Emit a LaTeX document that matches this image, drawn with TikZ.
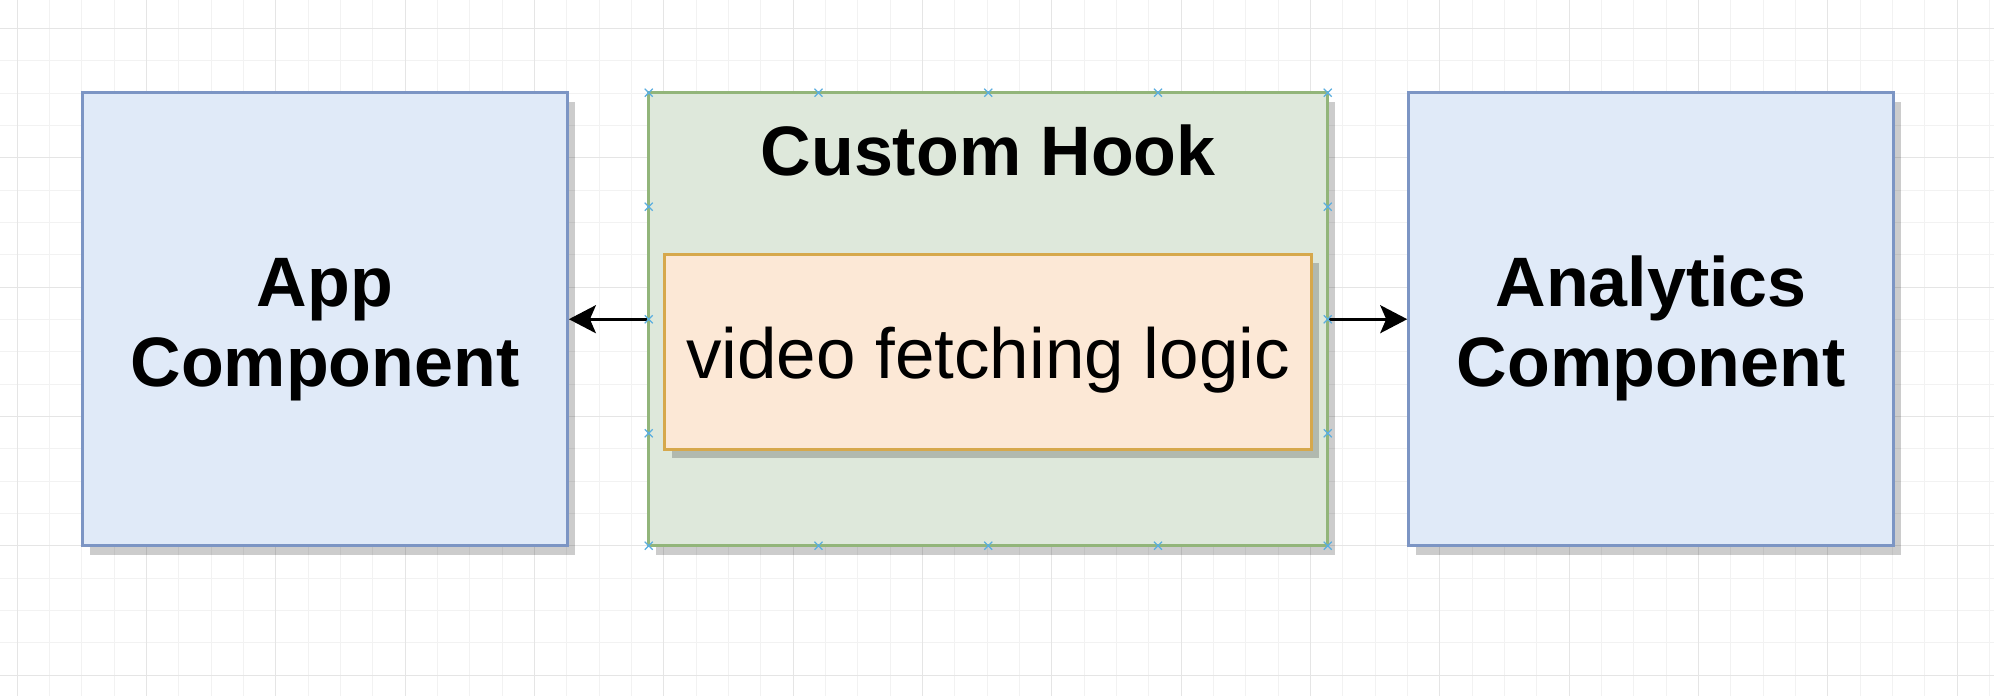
\documentclass[tikz,border=0pt]{standalone}
\usepackage{fontspec}
\setmainfont{Liberation Sans}
\usepackage{xcolor}
\usetikzlibrary{arrows.meta, shadows}
\definecolor{compfill}{HTML}{E0EAF8}
\definecolor{compline}{HTML}{7C95C4}
\definecolor{hookfill}{HTML}{DEE8DB}
\definecolor{hookline}{HTML}{92B57A}
\definecolor{logicfill}{HTML}{FCE8D6}
\definecolor{logicline}{HTML}{D6A84C}
\definecolor{cptblue}{HTML}{5AAEE0}

\begin{document}
\begin{tikzpicture}[x=1pt, y=-1pt,
    gridminor/.style={line width=1pt, black!5},
    gridmajor/.style={line width=1pt, black!10},
    boxshadow/.style={general shadow={shadow xshift=7pt, shadow yshift=-9pt, fill=black, opacity=.2}},
    comp/.style={draw=compline, fill=compfill, line width=2.8pt, boxshadow, minimum width=485pt, minimum height=453pt, inner sep=0pt, text height=149pt, align=center, font=\fontsize{70}{80}\selectfont\bfseries},
    hook/.style={draw=hookline, fill=hookfill, line width=2.8pt, boxshadow, minimum width=679pt, minimum height=453pt, inner sep=0pt},
    logic/.style={draw=logicline, fill=logicfill, line width=2.8pt, boxshadow, minimum width=647pt, minimum height=195pt, inner sep=0pt, text height=69pt, font=\fontsize{71}{80}\selectfont},
    title/.style={inner sep=0pt, font=\fontsize{70}{80}\selectfont\bfseries},
    cpt/.style={cptblue, line width=1.2pt},
    arr/.style={-{Stealth[length=27pt, width=28pt, inset=6pt]}, line width=2.7pt, black}
]
\useasboundingbox (0,0) rectangle (1994,696);
\fill[white] (0,0) rectangle (1994,696);
\foreach \k in {0,...,61} {\pgfmathsetmacro\gx{17.3+32.33*\k} \draw[gridminor] (\gx,0) -- (\gx,696);}
\foreach \k in {0,...,20} {\pgfmathsetmacro\gy{28.5+32.33*\k} \draw[gridminor] (0,\gy) -- (1994,\gy);}
\foreach \k in {0,...,15} {\pgfmathsetmacro\gx{17.3+129.32*\k} \draw[gridmajor] (\gx,0) -- (\gx,696);}
\foreach \k in {0,...,5} {\pgfmathsetmacro\gy{28.5+129.32*\k} \draw[gridmajor] (0,\gy) -- (1994,\gy);}
\node[comp] (APP) at (325,319.2) {App\\Component};
\node[hook] (HOOK) at (988.2,319.2) {};
\node[title, anchor=base] (HOOKTITLE) at (988.2,175.5) {Custom Hook};
\node[logic] (LOGIC) at (988,351.8) {video fetching logic};
\node[comp] (ANA) at (1651.1,319.2) {Analytics\\Component};
\draw[arr] (HOOK.west) -- (APP.east);
\draw[arr] (HOOK.east) -- (ANA.west);
\foreach \x in {648.7,818.5,988.2,1158,1327.7} {
  \foreach \y in {92.7,545.7} {\draw[cpt] (\x-4,\y-4) -- (\x+4,\y+4) (\x-4,\y+4) -- (\x+4,\y-4);}
}
\foreach \x in {648.7,1327.7} {
  \foreach \y in {206.7,319.3,433.3} {\draw[cpt] (\x-4,\y-4) -- (\x+4,\y+4) (\x-4,\y+4) -- (\x+4,\y-4);}
}
\end{tikzpicture}
\end{document}
